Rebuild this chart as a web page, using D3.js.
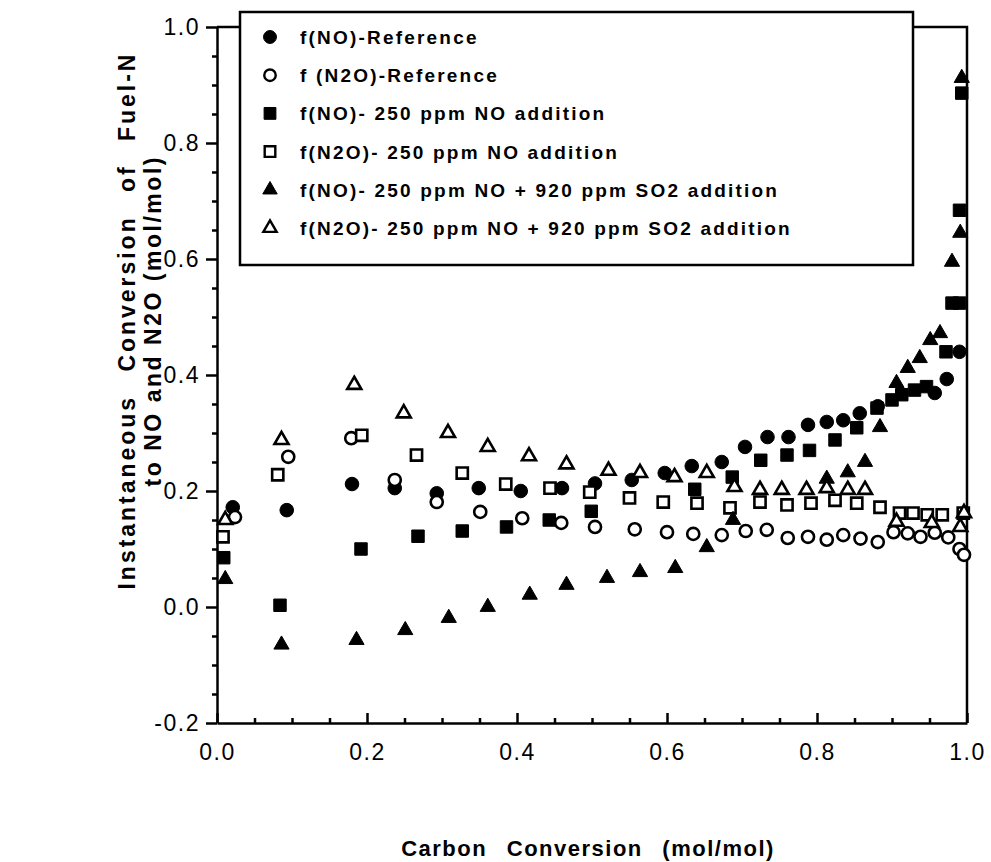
<!DOCTYPE html>
<html>
<head>
<meta charset="utf-8">
<script src="https://cdn.jsdelivr.net/npm/d3@7"></script>
<style>
  body { margin: 0; background: #fff; }
  text { font-family: "Liberation Sans", Arial, sans-serif; fill: #000; }
</style>
</head>
<body>
<div id="chart"></div>
<script>
/* CONSTANTS AND GLOBALS */
const width = 991,
  height = 862,
  margin = { top: 27, bottom: 139, left: 217, right: 24 };

/* DATA : [carbon conversion, fraction] */
const noRef = [
  [0.021, 0.172], [0.093, 0.167], [0.180, 0.212], [0.237, 0.205], [0.293, 0.196],
  [0.349, 0.205], [0.405, 0.200], [0.460, 0.205], [0.504, 0.213], [0.553, 0.219],
  [0.597, 0.231], [0.633, 0.243], [0.673, 0.250], [0.704, 0.276], [0.734, 0.293],
  [0.762, 0.293], [0.788, 0.314], [0.813, 0.319], [0.835, 0.322], [0.857, 0.334],
  [0.881, 0.346], [0.957, 0.369], [0.973, 0.393], [0.990, 0.440]
];
const n2oRef = [
  [0.024, 0.155], [0.095, 0.259], [0.179, 0.291], [0.237, 0.219], [0.293, 0.181],
  [0.351, 0.164], [0.407, 0.153], [0.459, 0.145], [0.504, 0.138], [0.557, 0.134],
  [0.600, 0.129], [0.635, 0.126], [0.673, 0.124], [0.705, 0.131], [0.733, 0.133],
  [0.761, 0.119], [0.788, 0.121], [0.813, 0.116], [0.835, 0.124], [0.858, 0.118],
  [0.881, 0.112], [0.902, 0.129], [0.921, 0.127], [0.938, 0.121], [0.957, 0.128],
  [0.975, 0.120], [0.990, 0.100], [0.996, 0.090]
];
const noAdd = [
  [0.009, 0.085], [0.084, 0.003], [0.192, 0.100], [0.268, 0.122], [0.327, 0.131],
  [0.386, 0.138], [0.443, 0.150], [0.499, 0.165], [0.637, 0.203], [0.687, 0.224],
  [0.725, 0.253], [0.760, 0.262], [0.790, 0.270], [0.824, 0.288], [0.853, 0.309],
  [0.880, 0.343], [0.900, 0.357], [0.913, 0.366], [0.930, 0.374], [0.946, 0.380],
  [0.972, 0.440], [0.980, 0.524], [0.990, 0.524], [0.990, 0.684], [0.993, 0.886]
];
const n2oAdd = [
  [0.008, 0.121], [0.081, 0.228], [0.193, 0.296], [0.266, 0.262], [0.327, 0.231],
  [0.385, 0.212], [0.444, 0.205], [0.497, 0.198], [0.550, 0.188], [0.595, 0.181],
  [0.640, 0.179], [0.684, 0.171], [0.724, 0.181], [0.760, 0.176], [0.792, 0.179],
  [0.824, 0.184], [0.853, 0.179], [0.884, 0.172], [0.910, 0.162], [0.928, 0.162],
  [0.947, 0.159], [0.967, 0.159], [0.995, 0.162]
];
const noSo2 = [
  [0.011, 0.048], [0.086, -0.065], [0.186, -0.057], [0.251, -0.040], [0.309, -0.019],
  [0.361, 0.000], [0.417, 0.021], [0.466, 0.038], [0.520, 0.050], [0.564, 0.060],
  [0.611, 0.067], [0.653, 0.103], [0.688, 0.150], [0.813, 0.221], [0.841, 0.232],
  [0.864, 0.250], [0.884, 0.310], [0.906, 0.386], [0.921, 0.412], [0.937, 0.429],
  [0.951, 0.460], [0.964, 0.472], [0.980, 0.595], [0.991, 0.645], [0.993, 0.912]
];
const n2oSo2 = [
  [0.011, 0.150], [0.086, 0.288], [0.183, 0.383], [0.249, 0.334], [0.308, 0.300],
  [0.361, 0.276], [0.416, 0.260], [0.466, 0.246], [0.522, 0.235], [0.564, 0.231],
  [0.610, 0.224], [0.653, 0.231], [0.690, 0.207], [0.724, 0.202], [0.753, 0.202],
  [0.786, 0.202], [0.813, 0.205], [0.841, 0.202], [0.864, 0.202], [0.906, 0.147],
  [0.953, 0.145], [0.991, 0.138], [0.996, 0.162]
];

const legendLabels = [
  "f(NO)-Reference",
  "f (N2O)-Reference",
  "f(NO)- 250 ppm NO addition",
  "f(N2O)- 250 ppm NO addition",
  "f(NO)- 250 ppm NO + 920 ppm SO2 addition",
  "f(N2O)- 250 ppm NO + 920 ppm SO2 addition"
];
const xTicks = [0, 0.2, 0.4, 0.6, 0.8, 1.0];
const yTicks = [-0.2, 0, 0.2, 0.4, 0.6, 0.8, 1.0];

const series = [
  { data: noRef, shape: d3.symbolCircle, filled: true, size: 145 },
  { data: n2oRef, shape: d3.symbolCircle, filled: false, size: 115 },
  { data: noAdd, shape: d3.symbolSquare, filled: true, size: 155 },
  { data: n2oAdd, shape: d3.symbolSquare, filled: false, size: 125 },
  { data: noSo2, shape: d3.symbolTriangle, filled: true, size: 100 },
  { data: n2oSo2, shape: d3.symbolTriangle, filled: false, size: 85 }
];

/* SCALES */
const xScale = d3.scaleLinear()
  .domain([0, 1])
  .range([margin.left, width - margin.right]);

const yScale = d3.scaleLinear()
  .domain([-0.2, 1.0])
  .range([height - margin.bottom, margin.top]);

/* SVG */
const svg = d3.select("#chart")
  .append("svg")
  .attr("width", width)
  .attr("height", height);

// minor ticks every 0.05
const xMinor = d3.range(0, 1.0001, 0.05).filter(v => !xTicks.some(t => Math.abs(t - v) < 1e-6));
const yMinor = d3.range(-0.2, 1.0001, 0.05).filter(v => !yTicks.some(t => Math.abs(t - v) < 1e-6));

const fmt = d => d.toFixed(1);

// + X AXIS (ticks point inward)
svg.append("g")
  .attr("transform", `translate(0, ${yScale(-0.2)})`)
  .call(d3.axisBottom(xScale)
    .tickValues(xTicks)
    .tickFormat(fmt)
    .tickSizeInner(-10)
    .tickSizeOuter(0)
    .tickPadding(21));

svg.append("g")
  .attr("transform", `translate(0, ${yScale(-0.2)})`)
  .call(d3.axisBottom(xScale)
    .tickValues(xMinor)
    .tickFormat("")
    .tickSizeInner(-5)
    .tickSizeOuter(0))
  .call(g => g.select(".domain").remove());

// + Y AXIS (ticks point outward)
svg.append("g")
  .attr("transform", `translate(${xScale(0)}, 0)`)
  .call(d3.axisLeft(yScale)
    .tickValues(yTicks)
    .tickFormat(fmt)
    .tickSizeInner(11)
    .tickSizeOuter(0)
    .tickPadding(6));

svg.append("g")
  .attr("transform", `translate(${xScale(0)}, 0)`)
  .call(d3.axisLeft(yScale)
    .tickValues(yMinor)
    .tickFormat("")
    .tickSizeInner(5)
    .tickSizeOuter(0))
  .call(g => g.select(".domain").remove());

svg.selectAll(".domain, .tick line")
  .attr("stroke", "#000")
  .attr("stroke-width", 2.5);

svg.selectAll(".tick text")
  .attr("font-size", 23)
  .attr("letter-spacing", "1.5px")
  .attr("fill", "#000");

// frame: top and right
svg.append("path")
  .attr("d", `M${xScale(0)},${yScale(1)} H${xScale(1)} V${yScale(-0.2)}`)
  .attr("fill", "none")
  .attr("stroke", "#000")
  .attr("stroke-width", 2.5);

// + POINTS
const symbolGen = d3.symbol();

series.forEach(s => {
  svg.append("g")
    .selectAll("path")
    .data(s.data)
    .join("path")
    .attr("transform", d => `translate(${xScale(d[0])}, ${yScale(d[1])})`)
    .attr("d", symbolGen.type(s.shape).size(s.size)())
    .attr("fill", s.filled ? "#000" : "#fff")
    .attr("stroke", "#000")
    .attr("stroke-width", s.filled ? 1 : 2.6);
});

// + LEGEND
const legend = svg.append("g");

legend.append("rect")
  .attr("x", 240)
  .attr("y", 12)
  .attr("width", 673)
  .attr("height", 253)
  .attr("fill", "#fff")
  .attr("stroke", "#000")
  .attr("stroke-width", 2.5);

legendLabels.forEach((label, i) => {
  const cy = 37 + i * 38.2;
  const s = series[i];
  legend.append("path")
    .attr("transform", `translate(270, ${cy})`)
    .attr("d", symbolGen.type(s.shape).size(s.size * 0.9)())
    .attr("fill", s.filled ? "#000" : "#fff")
    .attr("stroke", "#000")
    .attr("stroke-width", s.filled ? 1 : 2.4);
  legend.append("text")
    .attr("x", 300)
    .attr("y", cy + 7)
    .attr("font-size", 19)
    .attr("font-weight", "bold")
    .attr("letter-spacing", "2.2px")
    .text(label);
});

// + AXIS TITLES
svg.append("text")
  .attr("x", 588)
  .attr("y", 856)
  .attr("text-anchor", "middle")
  .attr("font-size", 22)
  .attr("font-weight", "bold")
  .attr("letter-spacing", "1.5px")
  .attr("word-spacing", "12px")
  .text("Carbon Conversion (mol/mol)");

svg.append("text")
  .attr("transform", "translate(135, 322) rotate(-90)")
  .attr("text-anchor", "middle")
  .attr("font-size", 23)
  .attr("font-weight", "bold")
  .attr("word-spacing", "14px")
  .attr("textLength", 535)
  .attr("lengthAdjust", "spacing")
  .text("Instantaneous Conversion of Fuel-N");

svg.append("text")
  .attr("transform", "translate(161, 322) rotate(-90)")
  .attr("text-anchor", "middle")
  .attr("font-size", 23)
  .attr("font-weight", "bold")
  .attr("textLength", 329)
  .attr("lengthAdjust", "spacing")
  .text("to NO and N2O (mol/mol)");
</script>
</body>
</html>
